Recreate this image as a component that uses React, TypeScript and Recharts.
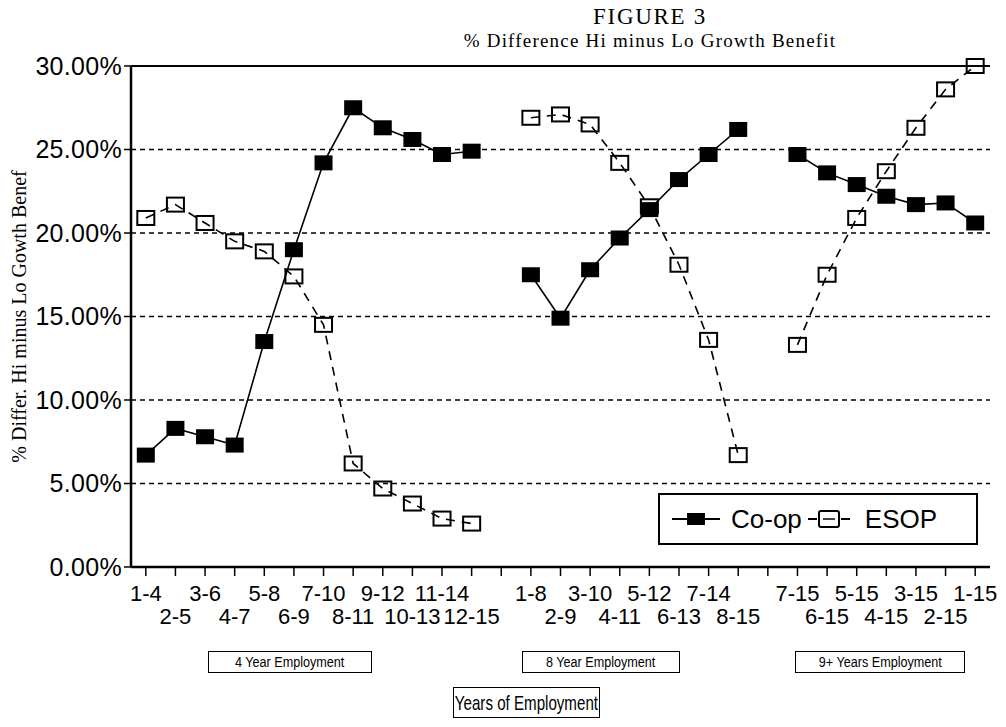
import { CartesianGrid, Line, LineChart, ReferenceLine, XAxis, YAxis } from "recharts";

const GROUP_4 = ["1-4", "2-5", "3-6", "4-7", "5-8", "6-9", "7-10", "8-11", "9-12", "10-13", "11-14", "12-15"];
const COOP_4 = [6.7, 8.3, 7.8, 7.3, 13.5, 19.0, 24.2, 27.5, 26.3, 25.6, 24.7, 24.9];
const ESOP_4 = [20.9, 21.7, 20.6, 19.5, 18.9, 17.4, 14.5, 6.2, 4.7, 3.8, 2.9, 2.6];

const GROUP_8 = ["1-8", "2-9", "3-10", "4-11", "5-12", "6-13", "7-14", "8-15"];
const COOP_8 = [17.5, 14.9, 17.8, 19.7, 21.4, 23.2, 24.7, 26.2];
const ESOP_8 = [26.9, 27.1, 26.5, 24.2, 21.6, 18.1, 13.6, 6.7];

const GROUP_9 = ["7-15", "6-15", "5-15", "4-15", "3-15", "2-15", "1-15"];
const COOP_9 = [24.7, 23.6, 22.9, 22.2, 21.7, 21.8, 20.6];
const ESOP_9 = [13.3, 17.5, 20.9, 23.7, 26.3, 28.6, 30.0];

const Y_TICKS = [0, 5, 10, 15, 20, 25, 30];
const GROUP_TITLES = ["4 Year Employment", "8 Year Employment", "9+ Years Employment"];
const SERIES = ["Co-op", "ESOP"];

type Row = { cat: string; label: string; row: number; coop: number | null; esop: number | null };

const groups = [
  { cats: GROUP_4, coop: COOP_4, esop: ESOP_4 },
  { cats: GROUP_8, coop: COOP_8, esop: ESOP_8 },
  { cats: GROUP_9, coop: COOP_9, esop: ESOP_9 },
];

// one empty slot between the employment groups breaks the lines
const data: Row[] = [];
groups.forEach((g, gi) => {
  if (gi > 0) data.push({ cat: `gap-${gi}`, label: "", row: 0, coop: null, esop: null });
  g.cats.forEach((c, i) => data.push({ cat: c, label: c, row: i % 2, coop: g.coop[i], esop: g.esop[i] }));
});

const SANS = "'Liberation Sans', Arial, sans-serif";
const SERIF = "'Liberation Serif', 'Times New Roman', serif";

const XTick = (props: any) => {
  const { x, y, index } = props;
  const d = data[index];
  if (!d || !d.label) return null;
  return (
    <text x={x} y={y + (d.row ? 46 : 23)} textAnchor="middle" fontFamily={SANS} fontSize={22} fill="#000">
      {d.label}
    </text>
  );
};

const CoopDot = (props: any) => {
  const { cx, cy } = props;
  if (cy == null || Number.isNaN(cy)) return null;
  return <rect x={cx - 9} y={cy - 7.5} width={18} height={15} fill="#000" />;
};

const EsopDot = (props: any) => {
  const { cx, cy } = props;
  if (cy == null || Number.isNaN(cy)) return null;
  return <rect x={cx - 8.5} y={cy - 7} width={17} height={14} fill="none" stroke="#000" strokeWidth={2} />;
};

const LegendBox = () => (
  <div
    style={{
      position: "absolute",
      left: 658,
      top: 493,
      width: 320,
      height: 52,
      border: "2px solid #000",
      background: "#fff",
      display: "flex",
      alignItems: "center",
      fontFamily: SANS,
      fontSize: 26,
      color: "#000",
      boxSizing: "border-box",
    }}
  >
    <svg width={48} height={20} style={{ marginLeft: 12 }}>
      <line x1={0} y1={10} x2={48} y2={10} stroke="#000" strokeWidth={2} />
      <rect x={15} y={4} width={18} height={12} fill="#000" />
    </svg>
    <span style={{ marginLeft: 11 }}>{SERIES[0]}</span>
    <svg width={42} height={22} style={{ marginLeft: 6 }}>
      <line x1={0} y1={11} x2={9} y2={11} stroke="#000" strokeWidth={2} />
      <line x1={33} y1={11} x2={42} y2={11} stroke="#000" strokeWidth={2} />
      <rect x={11} y={3} width={20} height={16} rx={2} fill="none" stroke="#000" strokeWidth={2} />
      <line x1={15} y1={11} x2={27} y2={11} stroke="#000" strokeWidth={1.5} />
    </svg>
    <span style={{ marginLeft: 15 }}>{SERIES[1]}</span>
  </div>
);

const boxStyle = (left: number, top: number, width: number, height: number, fontSize: number) => ({
  position: "absolute" as const,
  left,
  top,
  width,
  height,
  border: "1.5px solid #000",
  boxSizing: "border-box" as const,
  display: "flex",
  alignItems: "center",
  justifyContent: "center",
  whiteSpace: "nowrap" as const,
  fontFamily: SANS,
  fontSize,
  color: "#000",
});

export default function App() {
  return (
    <div style={{ position: "absolute", left: 0, top: 0, width: 1006, height: 727, background: "#fff" }}>
      <div style={{ position: "absolute", left: 0, width: 1300, top: 6, textAlign: "center", fontFamily: SERIF, fontSize: 23, letterSpacing: 1.7, lineHeight: "21px" }}>
        FIGURE 3
      </div>
      <div style={{ position: "absolute", left: 0, width: 1300, top: 32, textAlign: "center", fontFamily: SERIF, fontSize: 19, letterSpacing: 1.2, lineHeight: "18px" }}>
        % Difference Hi minus Lo Growth Benefit
      </div>
      <LineChart width={1006} height={727} data={data} margin={{ top: 66, right: 16, bottom: 100, left: 41 }}>
        <CartesianGrid horizontal vertical={false} stroke="#000" strokeDasharray="5 4" strokeWidth={1.3} />
        <XAxis
          dataKey="cat"
          scale="band"
          interval={0}
          height={60}
          tick={<XTick />}
          tickSize={9}
          tickLine={{ stroke: "#000", strokeWidth: 1.5 }}
          axisLine={{ stroke: "#000", strokeWidth: 2.5 }}
        />
        <YAxis
          domain={[0, 30]}
          ticks={Y_TICKS}
          interval={0}
          width={90}
          tickSize={7}
          tickFormatter={(v: number) => `${v.toFixed(2)}%`}
          tick={{ fill: "#000", fontSize: 25, fontFamily: SANS, letterSpacing: 0.3 }}
          tickLine={{ stroke: "#000", strokeWidth: 1.5 }}
          axisLine={{ stroke: "#000", strokeWidth: 2.5 }}
          label={{
            value: "% Differ. Hi minus Lo Gowth Benef",
            angle: -90,
            position: "insideLeft",
            offset: -22,
            style: { fontFamily: SERIF, fontSize: 20, fill: "#000", textAnchor: "middle" },
          }}
        />
        <YAxis yAxisId="right" orientation="right" width={0} tick={false} tickLine={false} axisLine={{ stroke: "#000", strokeWidth: 2 }} />
        <ReferenceLine y={30} stroke="#000" strokeWidth={2} />
        <Line
          dataKey="coop"
          name={SERIES[0]}
          stroke="#000"
          strokeWidth={1.6}
          dot={<CoopDot />}
          activeDot={false}
          connectNulls={false}
          isAnimationActive={false}
        />
        <Line
          dataKey="esop"
          name={SERIES[1]}
          stroke="#000"
          strokeWidth={1.6}
          strokeDasharray="9 7"
          dot={<EsopDot />}
          activeDot={false}
          connectNulls={false}
          isAnimationActive={false}
        />
      </LineChart>
      <LegendBox />
      <div style={boxStyle(208, 651, 164, 22, 14)}>
        <span style={{ display: "inline-block", transform: "scaleX(0.9)" }}>{GROUP_TITLES[0]}</span>
      </div>
      <div style={boxStyle(522, 651, 158, 22, 14)}>
        <span style={{ display: "inline-block", transform: "scaleX(0.9)" }}>{GROUP_TITLES[1]}</span>
      </div>
      <div style={boxStyle(795, 651, 170, 22, 14)}>
        <span style={{ display: "inline-block", transform: "scaleX(0.9)" }}>{GROUP_TITLES[2]}</span>
      </div>
      <div style={boxStyle(453, 687, 147, 31, 21)}>
        <span style={{ display: "inline-block", transform: "scaleX(0.72)" }}>Years of Employment</span>
      </div>
    </div>
  );
}
